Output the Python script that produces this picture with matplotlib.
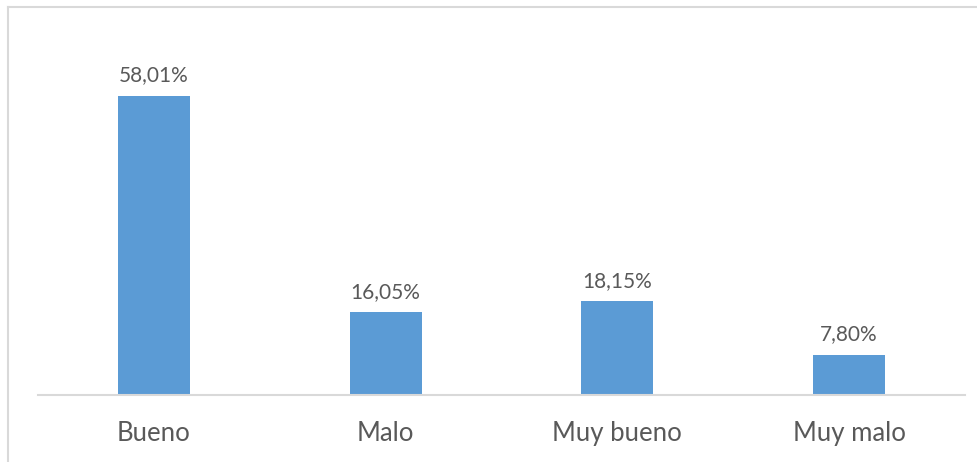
import matplotlib.pyplot as plt
from matplotlib.lines import Line2D

# Datos del gráfico
categorias = ['Bueno', 'Malo', 'Muy bueno', 'Muy malo']
porcentajes = [58.01, 16.05, 18.15, 7.80]
etiquetas = ['58,01%', '16,05%', '18,15%', '7,80%']

W, H = 977, 462
fig = plt.figure(figsize=(W / 100, H / 100), dpi=100)
fig.patch.set_facecolor('white')

# Marco gris del área del gráfico (solo borde superior e izquierdo visibles)
x0, y0 = 7.5 / W, 1 - 6.5 / H
fig.add_artist(Line2D([x0, 1.0], [y0, y0], transform=fig.transFigure, color='#D9D9D9', linewidth=1.5))
fig.add_artist(Line2D([x0, x0], [0.0, y0], transform=fig.transFigure, color='#D9D9D9', linewidth=1.5))

ax = fig.add_axes([38 / W, 1 - 395 / H, (965 - 38) / W, (395 - 34) / H])
x = range(len(categorias))
barras = ax.bar(x, porcentajes, width=0.31, color='#5B9BD5')

for b, txt in zip(barras, etiquetas):
    ax.annotate(txt, (b.get_x() + b.get_width() / 2, b.get_height()),
                xytext=(0, 7.5), textcoords='offset points', ha='center', va='bottom',
                fontsize=15, color='#595959', family='Lato')

ax.set_xlim(-0.5, len(categorias) - 0.5)
ax.set_ylim(0, 70)
ax.set_xticks(list(x))
ax.set_xticklabels(categorias, fontsize=18.5, color='#595959', family='Lato')
ax.tick_params(axis='x', length=0, pad=19)
ax.set_yticks([])
for s in ['top', 'right', 'left']:
    ax.spines[s].set_visible(False)
ax.spines['bottom'].set_color('#D9D9D9')
ax.spines['bottom'].set_linewidth(1.5)

fig.savefig('out.png', dpi=100)
